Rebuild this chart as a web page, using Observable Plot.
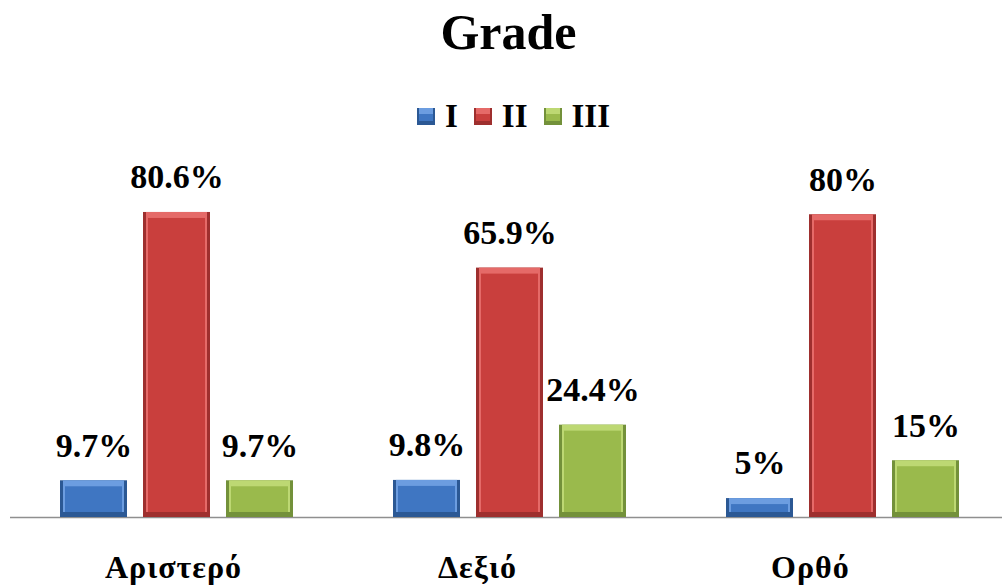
<!DOCTYPE html>
<html>
<head>
<meta charset="utf-8">
<script src="https://cdn.jsdelivr.net/npm/d3@7"></script>
<script src="https://cdn.jsdelivr.net/npm/@observablehq/plot@0.6"></script>
<style>
  html, body { margin: 0; padding: 0; background: #fff; }
  body { width: 1002px; height: 587px; overflow: hidden; font-family: "Liberation Serif", "Times New Roman", serif; }
  #title { height: 72px; box-sizing: border-box; padding-top: 5px; padding-left: 15px; line-height: 55px; font-size: 50px; font-weight: bold; text-align: center; }
  #legend { height: 68px; box-sizing: border-box; padding-top: 24px; padding-left: 417px; display: flex; align-items: flex-start; }
  .item { display: flex; align-items: center; height: 40px; line-height: 40px; font-size: 33px; font-weight: bold; margin-right: 16px; }
  .sw { width: 18px; height: 17px; margin-right: 10px; box-sizing: border-box; }
  #chart svg { display: block; }
  #chart svg g[aria-label="fx-axis tick label"] text { letter-spacing: 1px; }
</style>
</head>
<body>
<div id="title">Grade</div>
<div id="legend"></div>
<div id="chart"></div>
<script>
const categories = ["Αριστερό", "Δεξιό", "Ορθό"];
const series = ["I", "II", "III"];
const valuesI = [9.7, 9.8, 5];
const valuesII = [80.6, 65.9, 80];
const valuesIII = [9.7, 24.4, 15];

const mainColors = ["#3f76c2", "#c93f3d", "#9aba4c"];
const lightColors = ["#6c9de0", "#e56a68", "#bdd873"];
const darkColors = ["#2b5894", "#9e2f2e", "#73913a"];

const seriesValues = [valuesI, valuesII, valuesIII];
const rows = categories.flatMap((c, i) =>
  series.map((s, j) => ({category: c, series: s, value: seriesValues[j][i], k: j}))
);

// legend
const legend = document.getElementById("legend");
series.forEach((s, j) => {
  const item = document.createElement("div");
  item.className = "item";
  const sw = document.createElement("div");
  sw.className = "sw";
  sw.style.background = `linear-gradient(${lightColors[j]} 0 35%, ${mainColors[j]} 35% 78%, ${darkColors[j]} 78%)`;
  sw.style.boxShadow = `inset 2px 0 0 ${darkColors[j]}, inset -2px 0 0 ${darkColors[j]}`;
  item.appendChild(sw);
  const t = document.createElement("span");
  t.textContent = s;
  item.appendChild(t);
  legend.appendChild(item);
});

const chart = Plot.plot({
  width: 1002,
  height: 447,
  marginTop: 36.4,
  marginBottom: 70,
  marginLeft: 10,
  marginRight: -7.5,
  style: {fontFamily: "'Liberation Serif', 'Times New Roman', serif", background: "#fff"},
  fx: {domain: categories, padding: 0, label: null},
  x: {domain: series, paddingInner: 0.19, paddingOuter: 0.6, axis: null},
  y: {domain: [0, 90], axis: null},
  marks: [
    Plot.ruleY([0], {stroke: "#8f8f8f", strokeWidth: 1.5}),
    Plot.barY(rows, {fx: "category", x: "series", y: "value", fill: d => darkColors[d.k]}),
    Plot.barY(rows, {fx: "category", x: "series", y: "value", fill: d => lightColors[d.k], insetLeft: 3, insetRight: 3, insetBottom: 5}),
    Plot.barY(rows, {fx: "category", x: "series", y: "value", fill: d => mainColors[d.k], insetLeft: 5, insetRight: 5, insetTop: 6, insetBottom: 5}),
    Plot.text(rows, {fx: "category", x: "series", y: "value", text: d => d.value + "%", dy: -35, fontSize: 34, fontWeight: "bold", fill: "#000"}),
    Plot.axisFx({anchor: "bottom", tickSize: 0, tickPadding: 38, fontSize: 32, fontWeight: "bold", textAnchor: "start", dx: -72, label: null})
  ]
});
document.getElementById("chart").appendChild(chart);
</script>
</body>
</html>
